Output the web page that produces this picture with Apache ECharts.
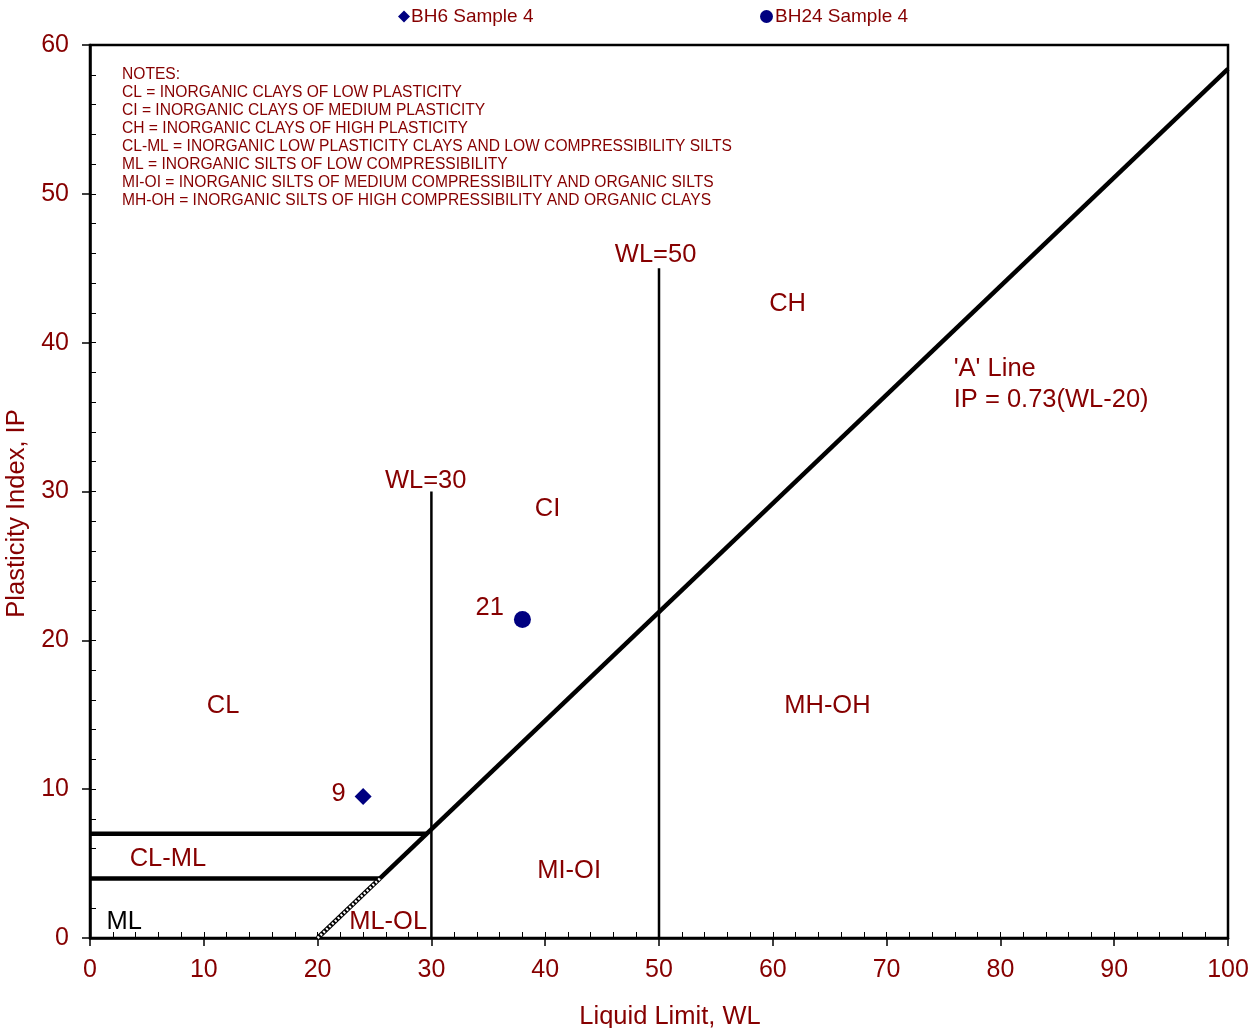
<!DOCTYPE html>
<html><head><meta charset="utf-8">
<script src="https://cdn.jsdelivr.net/npm/echarts@6/dist/echarts.min.js"></script>
<style>html,body{margin:0;padding:0;background:#fff}#c{width:1254px;height:1028px}</style>
</head><body><div id="c"></div>
<script>
// ---- data ----
const bh6 = [[24, 9.5]];
const bh6Labels = ['9'];
const bh24 = [[38, 21.4]];
const bh24Labels = ['21'];
const aLine = [[25.48, 4], [100, 58.4]];
const aLineHatched = [[20, 0], [25.48, 4]];
const clmlUpper = [[0, 7], [29.59, 7]];
const clmlLower = [[0, 4], [25.48, 4]];
const wl30Line = [[30, 0], [30, 30]];
const wl50Line = [[50, 0], [50, 45]];
const zoneLabels = [
  {name: 'CL', value: [11.7, 15.6]},
  {name: 'CI', value: [40.2, 28.8]},
  {name: 'CH', value: [61.3, 42.6]},
  {name: 'MH-OH', value: [64.8, 15.6]},
  {name: 'MI-OI', value: [42.1, 4.5]},
  {name: 'CL-ML', value: [6.85, 5.3]},
  {name: 'ML-OL', value: [26.2, 1.1]},
  {name: 'WL=30', value: [29.5, 30.7]},
  {name: 'WL=50', value: [49.7, 45.9]}
];
const mlLabel = [{name: 'ML', value: [3.0, 1.1]}];
const aLineLabel = [{name: "'A' Line\nIP = 0.73(WL-20)", value: [75.9, 37.2]}];
const notes = [
  'NOTES:',
  'CL = INORGANIC CLAYS OF LOW PLASTICITY',
  'CI = INORGANIC CLAYS OF MEDIUM PLASTICITY',
  'CH = INORGANIC CLAYS OF HIGH PLASTICITY',
  'CL-ML = INORGANIC LOW PLASTICITY CLAYS AND LOW COMPRESSIBILITY SILTS',
  'ML = INORGANIC SILTS OF LOW COMPRESSIBILITY',
  'MI-OI = INORGANIC SILTS OF MEDIUM COMPRESSIBILITY AND ORGANIC SILTS',
  'MH-OH = INORGANIC SILTS OF HIGH COMPRESSIBILITY AND ORGANIC CLAYS'
];
const xMin = 0, xMax = 100, xStep = 10, xMinor = 2;
const yMin = 0, yMax = 60, yStep = 10, yMinor = 2;

const RED = '#860000';
const FONT = 'Liberation Sans, Arial, sans-serif';
const chart = echarts.init(document.getElementById('c'));

function lineSeries(data, width, extra) {
  return Object.assign({
    type: 'line', data: data, showSymbol: false, symbol: 'none', silent: true,
    lineStyle: {color: '#000', width: width}, z: 3, animation: false
  }, extra || {});
}
const labelSeries = (data, color) => ({
  type: 'scatter', data: data, symbolSize: 0, silent: true, z: 6,
  itemStyle: {opacity: 1},
  label: {show: true, position: 'inside', formatter: p => p.name, color: color,
          fontSize: 25.5, fontFamily: FONT, lineHeight: 31}
});

chart.setOption({
  animation: false,
  title: {
    text: notes.join('\n'), left: 117, top: 61,
    textStyle: {fontSize: 15.6, fontWeight: 'normal', color: RED, fontFamily: FONT, lineHeight: 18}
  },
  legend: [
    {data: [{name: 'BH6 Sample 4', icon: 'diamond'}], left: 393, top: 2, itemWidth: 12, itemHeight: 12,
     textStyle: {fontSize: 19, color: RED, fontFamily: FONT, padding: [0, 0, 0, -4]}},
    {data: [{name: 'BH24 Sample 4', icon: 'circle'}], left: 755, top: 2, itemWidth: 13, itemHeight: 13,
     textStyle: {fontSize: 19, color: RED, fontFamily: FONT, padding: [0, 0, 0, -3]}}
  ],
  grid: {left: 90, right: 26, top: 45, bottom: 90, containLabel: false, outerBoundsMode: 'none',
         show: true, borderColor: '#000', borderWidth: 2.5, backgroundColor: 'transparent'},
  xAxis: [
    {type: 'value', min: xMin, max: xMax, interval: xStep,
     name: 'Liquid Limit, WL', nameLocation: 'middle', nameGap: 66,
     nameTextStyle: {fontSize: 25.5, color: RED, fontFamily: FONT, padding: [0, 0, 0, 22]},
     axisLine: {show: true, lineStyle: {color: '#000', width: 2.5}},
     axisTick: {show: true, inside: false, length: 8, lineStyle: {color: '#000', width: 1.5}},
     axisLabel: {fontSize: 25, color: RED, fontFamily: FONT, margin: 20},
     splitLine: {show: false}},
    {type: 'value', min: xMin, max: xMax, interval: xMinor, position: 'bottom', gridIndex: 0,
     axisLine: {show: false}, axisLabel: {show: false}, splitLine: {show: false},
     axisTick: {show: true, inside: true, length: 6, lineStyle: {color: '#000', width: 1}}}
  ],
  yAxis: [
    {type: 'value', min: yMin, max: yMax, interval: yStep,
     name: 'Plasticity Index, IP', nameLocation: 'middle', nameGap: 58,
     nameTextStyle: {fontSize: 25.5, color: RED, fontFamily: FONT, padding: [0, 44, 0, 0]},
     axisLine: {show: true, lineStyle: {color: '#000', width: 2.5}},
     axisTick: {show: true, inside: false, length: 8, lineStyle: {color: '#000', width: 1.5}},
     axisLabel: {fontSize: 25, color: RED, fontFamily: FONT, margin: 21},
     splitLine: {show: false}},
    {type: 'value', min: yMin, max: yMax, interval: yMinor, position: 'left', gridIndex: 0,
     axisLine: {show: false}, axisLabel: {show: false}, splitLine: {show: false},
     axisTick: {show: true, inside: true, length: 6, lineStyle: {color: '#000', width: 1}}}
  ],
  series: [
    lineSeries(aLine, 4.5),
    lineSeries(aLineHatched, 4.5),
    lineSeries(aLineHatched, 2.5, {lineStyle: {color: '#fff', width: 2.5, type: [2, 2]}, z: 4}),
    lineSeries(clmlUpper, 4.5),
    lineSeries(clmlLower, 4.5),
    lineSeries(wl30Line, 2.5),
    lineSeries(wl50Line, 2.5),
    labelSeries(zoneLabels, RED),
    labelSeries(mlLabel, '#000'),
    Object.assign(labelSeries(aLineLabel, RED), {label: {show: true, position: 'right', distance: 0, formatter: p => p.name, color: RED, fontSize: 25.5, fontFamily: FONT, lineHeight: 31}}),
    {name: 'BH6 Sample 4', type: 'scatter', symbol: 'diamond', symbolSize: 17, z: 7,
     itemStyle: {color: '#000080', opacity: 1},
     data: bh6.map((v, i) => ({value: v, name: bh6Labels[i]})),
     label: {show: true, position: 'left', distance: 9, formatter: p => p.name, color: RED, fontSize: 25.5, fontFamily: FONT, offset: [0, -3]}},
    {name: 'BH24 Sample 4', type: 'scatter', symbol: 'circle', symbolSize: 17, z: 7,
     itemStyle: {color: '#000080', opacity: 1},
     data: bh24.map((v, i) => ({value: v, name: bh24Labels[i]})),
     label: {show: true, position: 'left', distance: 10, formatter: p => p.name, color: RED, fontSize: 25.5, fontFamily: FONT, offset: [0, -12]}}
  ]
});
</script></body></html>
